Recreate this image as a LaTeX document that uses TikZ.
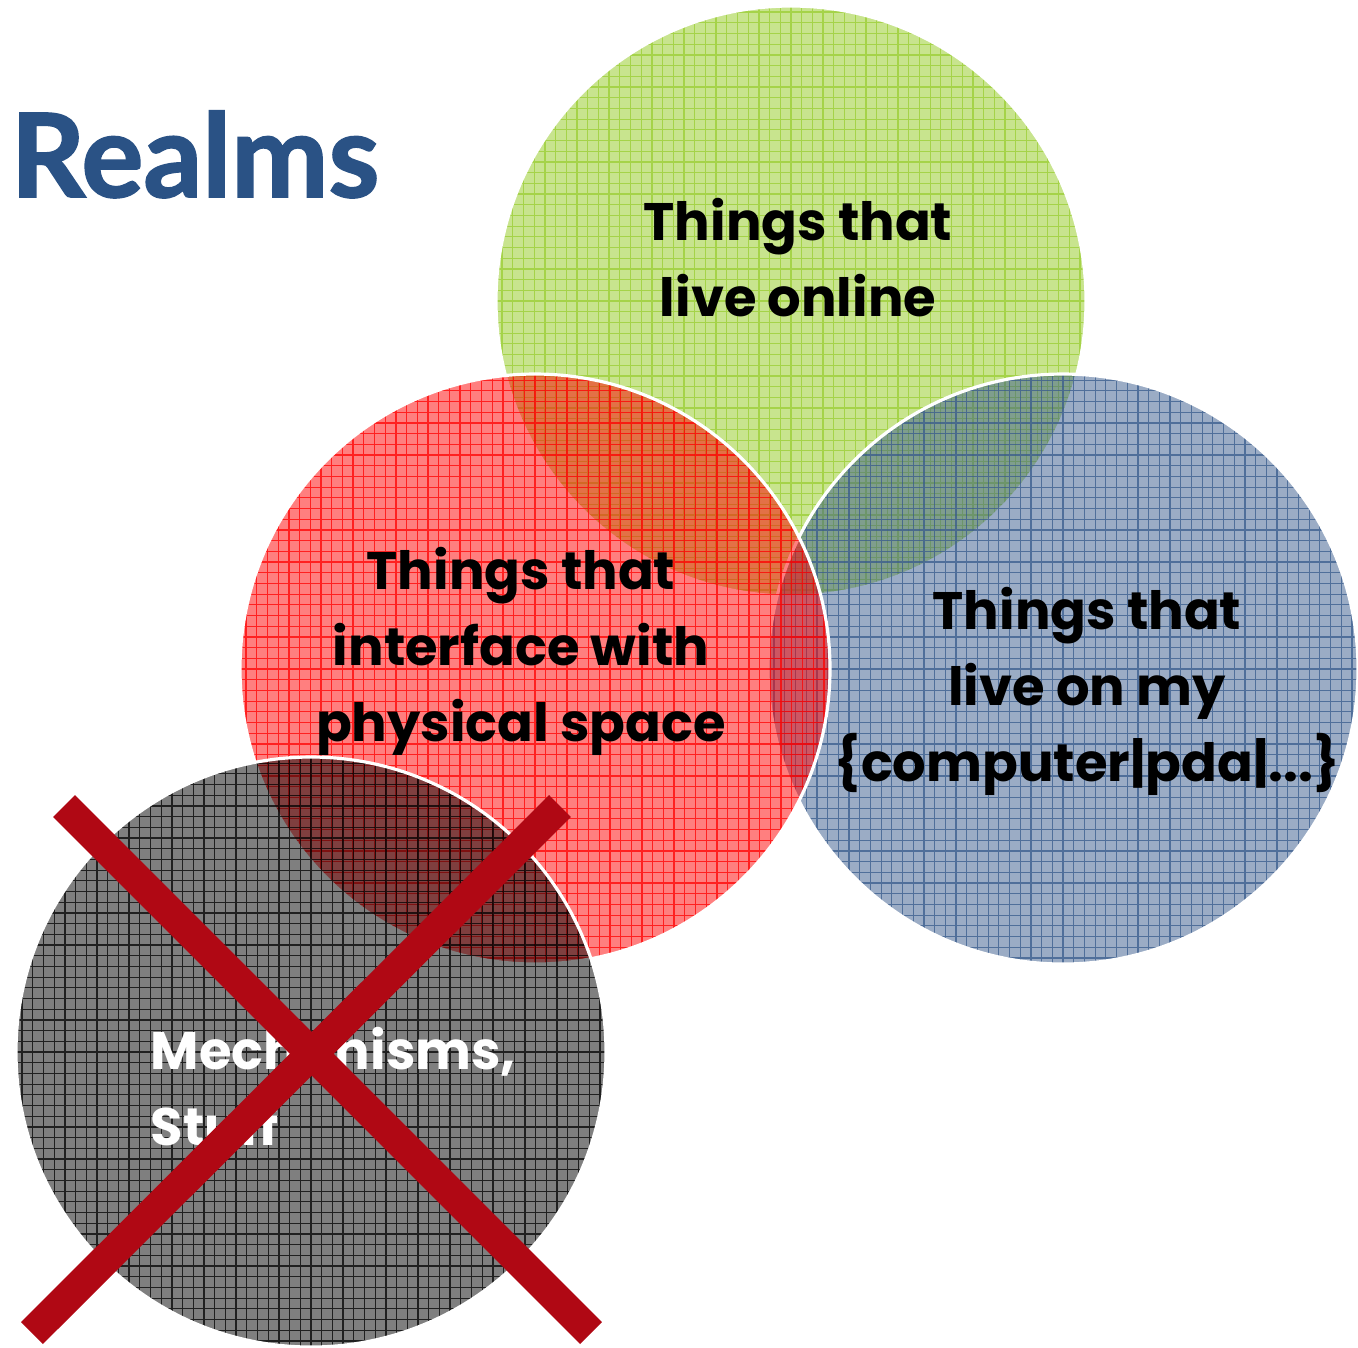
\documentclass[tikz,border=0pt]{standalone}
\usepackage{fontspec}
\setmainfont{Poppins}
\newfontfamily\titlefont[BoldFeatures={FakeBold=1.6}]{Lato}
\definecolor{onlinegreen}{RGB}{154,205,50}
\definecolor{spacered}{RGB}{255,0,0}
\definecolor{deviceblue}{RGB}{55,90,140}
\definecolor{stuffgray}{RGB}{0,0,0}
\definecolor{crossred}{RGB}{176,8,20}
\definecolor{titleblue}{RGB}{42,82,133}
\tikzset{
  realmgrid/.style={draw=#1, draw opacity=0.75, line width=0.35pt},
  realmedge/.style={draw=white, line width=0.9pt},
  realmtext/.style={font=\fontsize{15}{21.6}\selectfont\bfseries, align=center, inner sep=0pt},
  crossline/.style={draw=crossred, line width=0.31cm}
}
\newcommand\realmdisc[3]{%
  \fill[#2, fill opacity=#3] (#1) circle (295);
  \begin{scope}
    \clip (#1) circle (295);
    \draw[realmgrid=#2, shift={(#1)}, step=10.7] (-300,-300) grid (300,300);
  \end{scope}
  \draw[realmedge] (#1) circle (295);
}
\begin{document}
\begin{tikzpicture}[x=0.01cm, y=0.01cm]
\useasboundingbox (0,0) rectangle (1358,-1347);
\coordinate (online) at (791,-301);
\coordinate (device) at (1063,-669);
\coordinate (physical) at (535,-669);
\coordinate (stuff) at (311,-1052);
\realmdisc{online}{onlinegreen}{0.55}
\realmdisc{device}{deviceblue}{0.5}
\realmdisc{physical}{spacered}{0.5}
\realmdisc{stuff}{stuffgray}{0.5}
\node [anchor=base west, text=titleblue, font=\titlefont\fontsize{33}{40}\selectfont\bfseries, inner sep=0pt] (title) at (10,-197) {Realms};
\node [realmtext] (onlinetext) at (798,-258) {Things that\\live online};
\node [realmtext] (physicaltext) at (521,-651) {Things that\\interface with\\physical space};
\node [realmtext] (devicetext) at (1087,-691) {Things that\\live on my\\\{computer|pda|...\}};
\node [realmtext, align=left, anchor=west, text=white] (stufftext) at (150,-1087) {Mechanisms,\\Stuff};
\coordinate (xa) at (64,-806);
\coordinate (xb) at (591,-1333);
\coordinate (xc) at (560,-806);
\coordinate (xd) at (32,-1333);
\draw [crossline] (xa) -- (xb);
\draw [crossline] (xc) -- (xd);
\end{tikzpicture}
\end{document}
